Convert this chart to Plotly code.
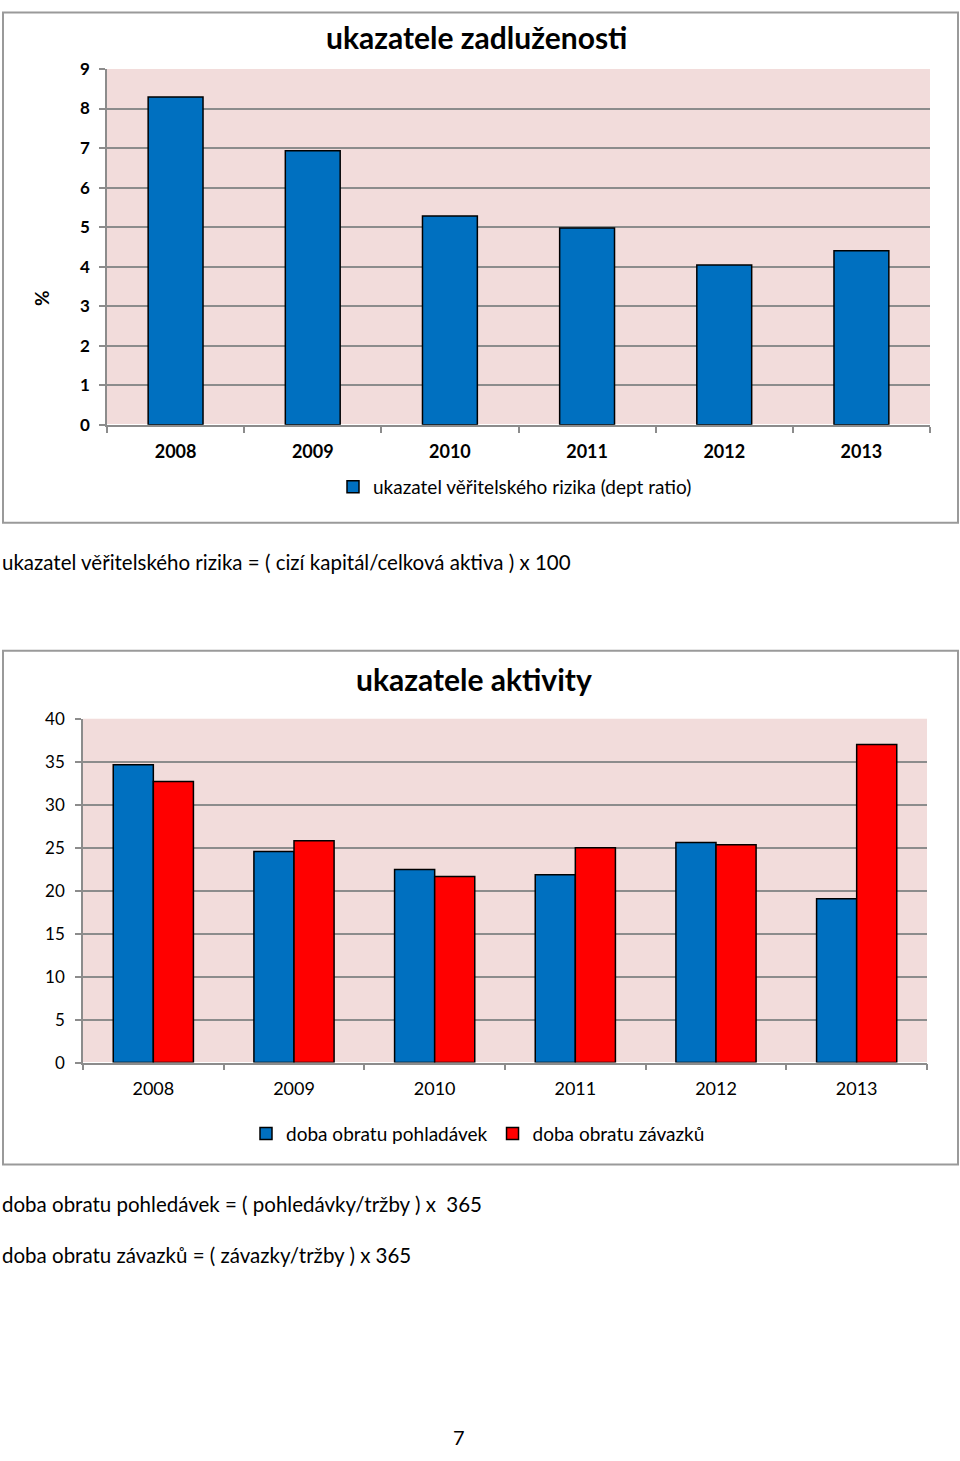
import plotly.graph_objects as go

years = ["2008", "2009", "2010", "2011", "2012", "2013"]
debt_ratio = [8.29, 6.93, 5.28, 4.98, 4.04, 4.40]
receivables_days = [34.65, 24.55, 22.45, 21.85, 25.6, 19.05]
payables_days = [32.7, 25.8, 21.65, 25.0, 25.35, 37.0]

W, H = 960, 1461
FONT = "Lato"
BLUE = "#0070C0"
RED = "#FF0000"
GRID = "#8C8C8C"
PINK = "#F2DCDB"

# vertical calibration of the capture (observed): out = 0.986 * y + 10
VSCALE, VOFF = 0.986, 10.0


def px(x):
    return x / W


def py(y):
    yf = (y - VOFF) / VSCALE
    yf = min(max(yf, 0.0), H)
    return 1 - yf / H


fig = go.Figure()

fig.add_trace(go.Bar(
    x=years, y=debt_ratio, name="ukazatel věřitelského rizika (dept ratio)",
    marker=dict(color=BLUE, line=dict(color="black", width=1.5)),
    width=0.4, showlegend=True,
    xaxis="x", yaxis="y", legend="legend",
))
fig.add_trace(go.Bar(
    x=years, y=receivables_days, name="doba obratu pohladávek",
    marker=dict(color=BLUE, line=dict(color="black", width=1.5)),
    width=0.285, offset=-0.285, showlegend=True,
    xaxis="x2", yaxis="y2", legend="legend2",
))
fig.add_trace(go.Bar(
    x=years, y=payables_days, name="doba obratu závazků",
    marker=dict(color=RED, line=dict(color="black", width=1.5)),
    width=0.285, offset=0, showlegend=True,
    xaxis="x2", yaxis="y2", legend="legend2",
))

axis_common = dict(showline=True, linecolor=GRID, linewidth=1.5,
                   ticks="outside", ticklen=6, tickcolor=GRID, tickwidth=1.5,
                   fixedrange=True)

fig.update_layout(
    width=W, height=H,
    margin=dict(l=0, r=0, t=0, b=0),
    paper_bgcolor="white",
    plot_bgcolor=PINK,
    barmode="overlay",
    showlegend=True,
    font=dict(family=FONT, color="black"),
    xaxis=dict(domain=[px(107), px(930)], anchor="y", type="category",
               tickson="boundaries", showgrid=False, ticklabelstandoff=10,
               tickfont=dict(size=18, family=FONT, weight="bold"),
               **axis_common),
    yaxis=dict(domain=[py(424), py(68)], anchor="x", range=[0, 9],
               dtick=1, showgrid=True, gridcolor=GRID, gridwidth=1.5,
               ticklabelstandoff=6,
               tickfont=dict(size=17, family=FONT, weight="bold"),
               **axis_common),
    xaxis2=dict(domain=[px(83), px(927)], anchor="y2", type="category",
                tickson="boundaries", showgrid=False, ticklabelstandoff=9,
                tickfont=dict(size=18, family=FONT),
                **axis_common),
    yaxis2=dict(domain=[py(1062), py(718)], anchor="x2", range=[0, 40],
                dtick=5, showgrid=True, gridcolor=GRID, gridwidth=1.5,
                ticklabelstandoff=7,
                tickfont=dict(size=17, family=FONT),
                **axis_common),
    legend=dict(orientation="h", x=px(515), xanchor="center", y=py(486), yanchor="middle",
                font=dict(size=19, family=FONT), bgcolor="rgba(0,0,0,0)",
                visible=True),
    legend2=dict(orientation="h", x=px(478), xanchor="center", y=py(1133), yanchor="middle",
                 font=dict(size=19, family=FONT), bgcolor="rgba(0,0,0,0)",
                 visible=True),
)

shapes = [
    dict(type="rect", xref="paper", yref="paper", x0=px(3), x1=px(958), y0=py(522), y1=1 - 1.5 / H,
         line=dict(color="#9A9A9A", width=2), fillcolor="rgba(0,0,0,0)", layer="below"),
    dict(type="rect", xref="paper", yref="paper", x0=px(3), x1=px(958), y0=py(1164), y1=py(650),
         line=dict(color="#9A9A9A", width=2), fillcolor="rgba(0,0,0,0)", layer="below"),
]
fig.update_layout(shapes=shapes)

annotations = [
    dict(text="<b>ukazatele zadluženosti</b>", x=px(476), y=py(36), font=dict(size=30)),
    dict(text="<b>ukazatele aktivity</b>", x=px(474), y=py(678), font=dict(size=30)),
    dict(text="<b>%</b>", x=px(42), y=py(297), textangle=-90, font=dict(size=19)),
    dict(text="ukazatel věřitelského rizika = ( cizí kapitál/celková aktiva ) x 100",
         x=px(0), y=py(561), xanchor="left", font=dict(size=20.5)),
    dict(text="doba obratu pohledávek = ( pohledávky/tržby ) x  365",
         x=px(0), y=py(1203), xanchor="left", font=dict(size=20.5)),
    dict(text="doba obratu závazků = ( závazky/tržby ) x 365",
         x=px(0), y=py(1254), xanchor="left", font=dict(size=20.5)),
    dict(text="7", x=px(459), y=0.0, yanchor="bottom", font=dict(size=20)),
]
for a in annotations:
    a.setdefault("xanchor", "center")
    a.setdefault("yanchor", "middle")
    a.update(xref="paper", yref="paper", showarrow=False)
    a["font"] = dict(family=FONT, color="black", **a["font"])
fig.update_layout(annotations=annotations)

post = (
    "document.documentElement.style.margin='0';"
    "document.body.style.margin='0';document.body.style.padding='0';"
    "var gd=document.querySelector('.plotly-graph-div');"
    "gd.style.position='absolute';gd.style.top='0px';gd.style.left='0px';"
)
fig.write_html("out.html", post_script=post, config={"displayModeBar": False})
